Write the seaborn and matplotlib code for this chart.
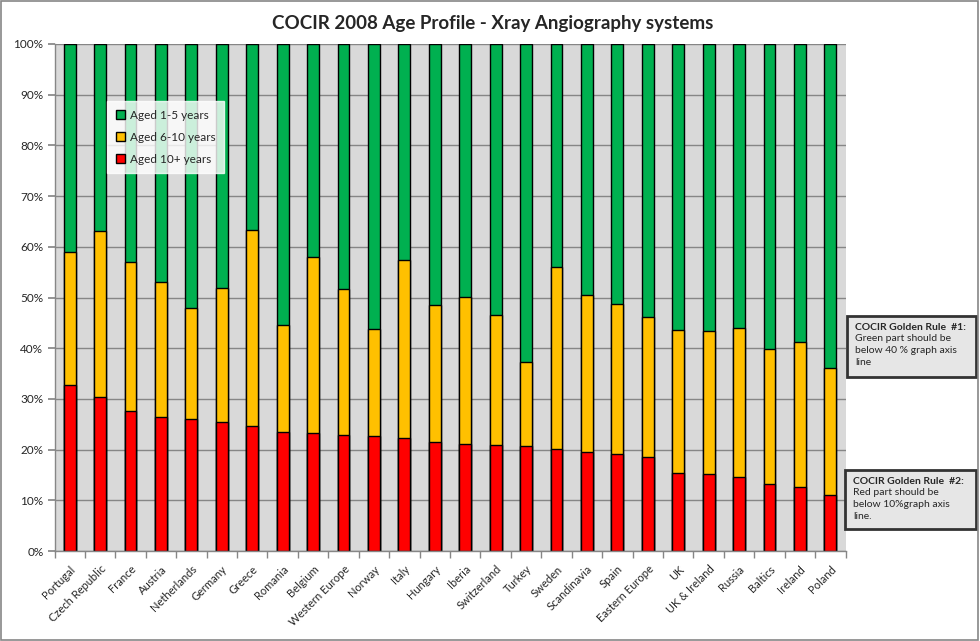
import numpy as np
import pandas as pd
import matplotlib
matplotlib.use("Agg")
import matplotlib.pyplot as plt
import seaborn as sns
from matplotlib.patches import Rectangle, Patch
from matplotlib.ticker import PercentFormatter, FixedLocator

# data (% of installed base)
countries = ["Portugal", "Czech Republic", "France", "Austria", "Netherlands",
             "Germany", "Greece", "Romania", "Belgium", "Western Europe",
             "Norway", "Italy", "Hungary", "Iberia", "Switzerland", "Turkey",
             "Sweden", "Scandinavia", "Spain", "Eastern Europe", "UK",
             "UK & Ireland", "Russia", "Baltics", "Ireland", "Poland"]
aged_10_plus = [32.8, 30.4, 27.6, 26.5, 26.1, 25.5, 24.7, 23.5, 23.3, 22.9,
                22.7, 22.3, 21.5, 21.1, 20.9, 20.7, 20.1, 19.5, 19.1, 18.5,
                15.4, 15.2, 14.6, 13.2, 12.6, 11.0]
aged_6_10 = [26.1, 32.7, 29.4, 26.6, 21.8, 26.4, 38.6, 21.0, 34.6, 28.8,
             21.0, 35.1, 27.0, 29.0, 25.7, 16.6, 36.0, 31.0, 29.7, 27.7,
             28.2, 28.2, 29.4, 26.6, 28.6, 25.1]
aged_1_5 = [100 - r - y for r, y in zip(aged_10_plus, aged_6_10)]

df = pd.DataFrame({"country": countries, "red": aged_10_plus, "yellow": aged_6_10, "green": aged_1_5})
df["top_yellow"] = df["red"] + df["yellow"]
df["top_green"] = df["top_yellow"] + df["green"]

c_green, c_yellow, c_red = "#00B050", "#FFC000", "#FF0000"

sns.set_theme(style="white")
plt.rcParams["font.family"] = ["Lato", "DejaVu Sans"]

fig = plt.figure(figsize=(9.8, 6.41), dpi=100)
ax = fig.add_axes([54.5 / 980, 90 / 641, 791 / 980, 507 / 641])
ax.set_facecolor("#D9D9D9")

# stacked bars: draw cumulative totals from tallest to shortest
for col, colr in [("top_green", c_green), ("top_yellow", c_yellow), ("red", c_red)]:
    sns.barplot(data=df, x="country", y=col, color=colr, width=0.39,
                edgecolor="black", linewidth=1, saturation=1, ax=ax)

ax.set_xlim(-0.5, len(countries) - 0.5)
ax.set_ylim(0, 100)
ax.set_yticks(np.arange(0, 101, 10))
ax.yaxis.set_major_formatter(PercentFormatter(decimals=0))
ax.yaxis.grid(True, color="#868686", linewidth=1)
ax.set_axisbelow(True)
ax.set_xlabel("")
ax.set_ylabel("")

ax.set_xticks(range(len(countries)))
ax.set_xticklabels(countries, rotation=45, ha="right", rotation_mode="anchor", fontsize=8)
ax.tick_params(axis="x", length=0, pad=9)
ax.xaxis.set_minor_locator(FixedLocator(np.arange(-0.5, len(countries), 1)))
ax.tick_params(axis="x", which="minor", length=5, color="#868686", bottom=True)
ax.tick_params(axis="y", length=5, color="#868686", left=True, labelsize=8.5, pad=3)

for s in ["top", "right"]:
    ax.spines[s].set_visible(False)
for s in ["left", "bottom"]:
    ax.spines[s].set_color("#868686")
    ax.spines[s].set_linewidth(1)

fig.text(493 / 980, 1 - 24 / 641, "COCIR 2008 Age Profile - Xray Angiography systems",
         ha="center", va="center", fontsize=13.5, fontweight="bold")

handles = [Patch(facecolor=c_green, edgecolor="black", label="Aged 1-5 years"),
           Patch(facecolor=c_yellow, edgecolor="black", label="Aged 6-10 years"),
           Patch(facecolor=c_red, edgecolor="black", label="Aged 10+ years")]
leg = ax.legend(handles=handles, loc="upper left", bbox_to_anchor=(0.067, 0.887),
                borderaxespad=0, fontsize=8.5, frameon=True, fancybox=False,
                handlelength=0.8, handleheight=0.8, handletextpad=0.4,
                labelspacing=0.95, borderpad=0.7)
leg.get_frame().set_facecolor("white")
leg.get_frame().set_edgecolor("white")

# golden rule boxes
def rule_box(x0, y0, w, h, title, body):
    fig.patches.append(Rectangle((x0 / 980, 1 - (y0 + h) / 641), w / 980, h / 641,
                                 transform=fig.transFigure, facecolor="#E6E6E6",
                                 edgecolor="#333333", linewidth=2))
    fig.text((x0 + 8) / 980, 1 - (y0 + 11) / 641, title, fontsize=7.5, fontweight="bold", va="center")
    fig.text((x0 + 8) / 980, 1 - (y0 + 18) / 641, body, fontsize=7.5, va="top", linespacing=1.45)

rule_box(847, 316, 129, 61, "COCIR Golden Rule  #1:",
         "Green part should be\nbelow 40 % graph axis\nline")
rule_box(845, 470, 131, 59, "COCIR Golden Rule  #2:",
         "Red part should be\nbelow 10%graph axis\nline.")

# outer chart border
fig.patches.append(Rectangle((0.001, 0.002), 0.997, 0.996, transform=fig.transFigure,
                             fill=False, edgecolor="#868686", linewidth=1.2))

fig.savefig("out.png", dpi=100)
